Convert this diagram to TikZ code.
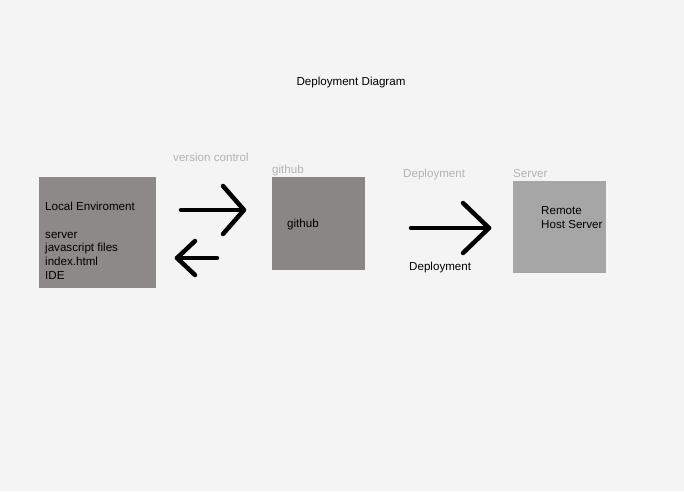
\documentclass[tikz,border=0pt]{standalone}
\usepackage{fontspec}
\setmainfont{Liberation Sans}
\usetikzlibrary{calc}
\begin{document}
\begin{tikzpicture}[x=1pt,y=-1pt,
  box/.style={draw=none,inner sep=0pt,anchor=north west},
  lbl/.style={inner sep=0pt,anchor=base west,font=\fontsize{11.6}{13}\selectfont,text=black},
  captxt/.style={inner sep=0pt,anchor=base west,font=\fontsize{11.6}{12}\selectfont,text=greytext},
  arr/.style={line width=4.5pt,line cap=round,line join=round,draw=black}]
\definecolor{bg}{HTML}{F4F4F4}
\definecolor{boxa}{HTML}{8D8988}
\definecolor{boxb}{HTML}{8A8685}
\definecolor{boxc}{HTML}{A6A6A6}
\definecolor{greytext}{HTML}{B3B3B3}
\fill[bg] (0,0) rectangle (684,491);
\useasboundingbox (0,0) rectangle (684,491);
% title
\node[inner sep=0pt,anchor=base,font=\fontsize{11.6}{13}\selectfont] (title) at (351,85) {Deployment Diagram};
% boxes
\fill[boxa] (39,177) rectangle (156,288);
\node[box,minimum width=117pt,minimum height=111pt] (local) at (39,177) {};
\fill[boxb] (272,177) rectangle (365,270);
\node[box,minimum width=93pt,minimum height=93pt] (gh) at (272,177) {};
\fill[boxc] (513,181) rectangle (606,273);
\node[box,minimum width=93pt,minimum height=92pt] (srv) at (513,181) {};
% captions
\node[captxt] (cvc) at (173,161) {version control};
\node[captxt] (cgh) at (272,173) {github};
\node[captxt] (cdep) at (403,177) {Deployment};
\node[captxt] (csrv) at (513,177) {Server};
% box texts
\node[lbl] (t1) at (45,210) {Local Enviroment};
\node[lbl] (t2) at (45,238) {server};
\node[lbl] (t3) at (45,251.5) {javascript files};
\node[lbl] (t4) at (45,265) {index.html};
\node[lbl] (t5) at (45,279) {IDE};
\node[lbl] (t6) at (287,227) {github};
\node[lbl] (t7) at (541,214) {Remote};
\node[lbl] (t8) at (541,228) {Host Server};
\node[lbl] (t9) at (409,270) {Deployment};
% arrows
\coordinate (a1s) at (181,210); \coordinate (a1e) at (244,210);
\draw[arr] (a1s) -- (a1e);
\draw[arr] ($(a1e)+(-21,-24)$) -- (a1e) -- ($(a1e)+(-21,24)$);
\coordinate (a2s) at (217,258); \coordinate (a2e) at (177,258);
\draw[arr] (a2s) -- (a2e);
\draw[arr] ($(a2e)+(18,-17)$) -- (a2e) -- ($(a2e)+(18,17)$);
\coordinate (a3s) at (411,228); \coordinate (a3e) at (489,228);
\draw[arr] (a3s) -- (a3e);
\draw[arr] ($(a3e)+(-26,-25)$) -- (a3e) -- ($(a3e)+(-26,25)$);
\end{tikzpicture}
\end{document}
